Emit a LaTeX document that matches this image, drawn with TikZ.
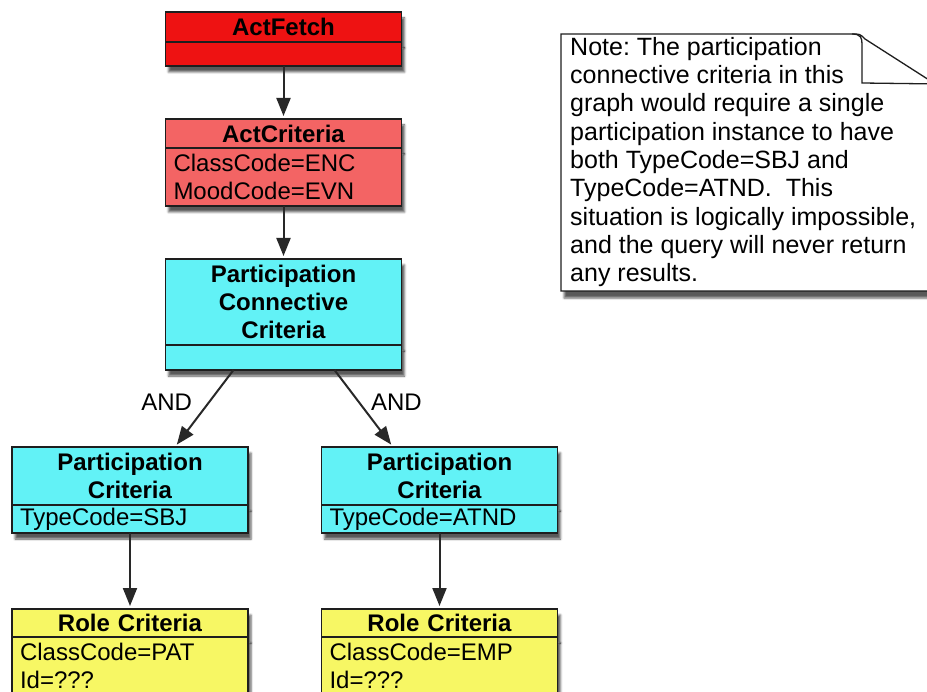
\documentclass[tikz,border=0pt]{standalone}
\usepackage{fontspec}
\setmainfont{Liberation Sans}
\usetikzlibrary{positioning,arrows.meta,shadows.blur}

\definecolor{fetchred}{RGB}{238,18,18}
\definecolor{critred}{RGB}{243,100,100}
\definecolor{partcyan}{RGB}{98,242,246}
\definecolor{roleyellow}{RGB}{247,247,100}
\definecolor{boxline}{RGB}{30,30,30}
\definecolor{arrowgray}{RGB}{40,40,40}

\newcommand\diagfont{\fontsize{24}{28}\selectfont}
\newcommand\notefont{\fontsize{25}{28.3}\selectfont}

\begin{document}
\frenchspacing
\begin{tikzpicture}[
  x=1pt, y=-1pt,
  node distance=53pt,
  head/.style={draw=boxline, line width=1.3pt, text width=220pt, inner xsep=8pt, inner ysep=0pt, outer sep=0pt, align=center, font=\diagfont\bfseries, blur shadow={shadow xshift=3pt, shadow yshift=-6pt, shadow opacity=65}},
  body/.style={head, align=left, font=\diagfont},
  link/.style={-{Triangle[length=18pt,width=14pt]}, shorten >=3pt, line width=2pt, draw=arrowgray, fill=arrowgray},
  andlabel/.style={font=\diagfont, inner sep=3pt}
]
  \useasboundingbox (0,0) rectangle (927,692);
  \clip (0,0) rectangle (927,692);

  % ActFetch / ActCriteria
  \node[head, fill=fetchred, minimum height=30pt, anchor=north] (fetch) at (283.5,12) {ActFetch};
  \node[body, fill=fetchred, minimum height=24pt, below=0pt of fetch] (fetchbody) {};

  \node[head, fill=critred, minimum height=29pt, below=of fetchbody] (crit) {ActCriteria};
  \node[body, fill=critred, minimum height=58pt, below=0pt of crit] (critbody) {ClassCode=ENC\\MoodCode=EVN};

  % Participation connective
  \node[head, fill=partcyan, minimum height=86pt, below=of critbody] (pcc) {Participation\\Connective\\Criteria};
  \node[body, fill=partcyan, minimum height=25pt, below=0pt of pcc] (pccbody) {};

  % Participation criteria
  \node[head, fill=partcyan, minimum height=58pt, below=77pt of pccbody, xshift=-153.5pt] (partsbj) {Participation\\Criteria};
  \node[body, fill=partcyan, minimum height=28pt, below=0pt of partsbj] (partsbjbody) {TypeCode=SBJ};

  \node[head, fill=partcyan, minimum height=58pt, below=77pt of pccbody, xshift=156pt] (partatnd) {Participation\\Criteria};
  \node[body, fill=partcyan, minimum height=28pt, below=0pt of partatnd] (partatndbody) {TypeCode=ATND};

  % Role criteria
  \node[head, fill=roleyellow, minimum height=28pt, below=76pt of partsbjbody] (rolepat) {Role Criteria};
  \node[body, fill=roleyellow, minimum height=58pt, below=0pt of rolepat] (rolepatbody) {ClassCode=PAT\\Id=???};

  \node[head, fill=roleyellow, minimum height=28pt, below=76pt of partatndbody] (roleemp) {Role Criteria};
  \node[body, fill=roleyellow, minimum height=58pt, below=0pt of roleemp] (roleempbody) {ClassCode=EMP\\Id=???};

  % Arrows
  \draw[link] (fetchbody) -- (crit);
  \draw[link] (critbody) -- (pcc);
  \draw[link] ([xshift=-50pt]pccbody.south) -- ([xshift=45pt]partsbj.north) node[andlabel, pos=0.42, left=13pt] (andsbj) {AND};
  \draw[link] ([xshift=51pt]pccbody.south) -- ([xshift=-46.5pt]partatnd.north) node[andlabel, pos=0.42, right=8pt] (andatnd) {AND};
  \draw[link] (partsbjbody) -- (rolepat);
  \draw[link] (partatndbody) -- (roleemp);

  % Note
  \draw[draw=boxline, line width=1.3pt, fill=white, blur shadow={shadow xshift=3pt, shadow yshift=-7pt, shadow opacity=65}]
    (561,34) -- (852,34) .. controls (860,34) .. (865,39) -- (940,87) -- (940,291) -- (561,291) -- cycle;
  \draw[draw=boxline, line width=1.3pt]
    (852,34) .. controls (861,34) and (862,38) .. (862,44) -- (862,83) -- (940,84);
  \node[font=\notefont, align=left, inner sep=0pt, anchor=north west] (note) at (570,37)
    {Note: The participation\\connective criteria in this\\graph would require a single\\participation instance to have\\both TypeCode=SBJ and\\TypeCode=ATND.\ \ This\\situation is logically impossible,\\and the query will never return\\any results.};
\end{tikzpicture}
\end{document}
